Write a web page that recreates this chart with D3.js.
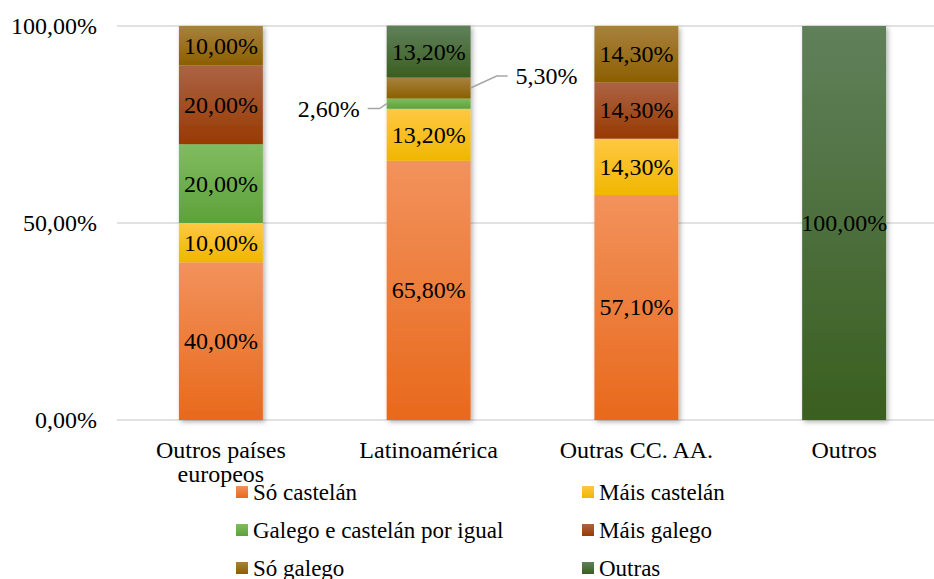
<!DOCTYPE html>
<html>
<head>
<meta charset="utf-8">
<script src="https://cdn.jsdelivr.net/npm/d3@7"></script>
<style>
html,body{margin:0;padding:0;background:#fff;}
svg{display:block;font-family:"Liberation Serif","Times New Roman",serif;}
</style>
</head>
<body>
<svg id="chart" width="934" height="579"></svg>
<script>
const categories = ["Outros países europeos", "Latinoamérica", "Outras CC. AA.", "Outros"];
const seriesNames = ["Só castelán", "Máis castelán", "Galego e castelán por igual", "Máis galego", "Só galego", "Outras"];
const soCastelan      = [40.0, 65.8, 57.1, 0];
const maisCastelan    = [10.0, 13.2, 14.3, 0];
const galegoCastelan  = [20.0, 2.6, 0, 0];
const maisGalego      = [20.0, 0, 14.3, 0];
const soGalego        = [10.0, 5.3, 14.3, 0];
const outras          = [0, 13.2, 0, 100.0];
const yTicks = [0, 50, 100];

const seriesValues = [soCastelan, maisCastelan, galegoCastelan, maisGalego, soGalego, outras];
const colorsTop = ["#F2925C", "#FFC843", "#80BC60", "#AC6344", "#A8813E", "#60805A"];
const colorsBot = ["#E8691C", "#F0B700", "#5EA13A", "#983A02", "#8C5F00", "#3A5F20"];

const rows = categories.map((c, i) => {
  const r = {cat: c};
  seriesNames.forEach((s, j) => r[s] = seriesValues[j][i]);
  return r;
});

const svg = d3.select("#chart");
const fmt = v => d3.format(".2f")(v).replace(".", ",") + "%";

const defs = svg.append("defs");
seriesNames.forEach((s, j) => {
  const g = defs.append("linearGradient").attr("id", "g" + j)
    .attr("x1", 0).attr("y1", 0).attr("x2", 0).attr("y2", 1);
  g.append("stop").attr("offset", "0%").attr("stop-color", colorsTop[j]);
  g.append("stop").attr("offset", "100%").attr("stop-color", colorsBot[j]);
});
const f = defs.append("filter").attr("id", "shadow").attr("x", "-20%").attr("y", "-5%").attr("width", "140%").attr("height", "110%");
f.append("feDropShadow").attr("dx", 2).attr("dy", 2).attr("stdDeviation", 2.5).attr("flood-color", "#000").attr("flood-opacity", 0.3);

const x = d3.scaleBand().domain(categories).range([117, 948]).paddingInner(0.596).paddingOuter(0.298);
const y = d3.scaleLinear().domain([0, 100]).range([420, 26]);

// gridlines
svg.append("g").selectAll("line").data(yTicks).join("line")
  .attr("x1", 117).attr("x2", 934)
  .attr("y1", d => y(d)).attr("y2", d => y(d))
  .attr("stroke", "#D9D9D9").attr("stroke-width", 1.5);

// y axis labels
const yAxis = d3.axisLeft(y).tickValues(yTicks).tickFormat(fmt).tickSize(0).tickPadding(0);
const ya = svg.append("g").attr("transform", "translate(97,0)").call(yAxis);
ya.select(".domain").remove();
ya.attr("font-family", null);
ya.selectAll("text").attr("font-family", "Liberation Serif, Times New Roman, serif")
  .attr("font-size", 24).attr("fill", "#000").attr("dy", "0.33em");

const stack = d3.stack().keys(seriesNames);
const stacked = stack(rows);

// bars with shadow
const barG = svg.append("g");
categories.forEach((c, i) => {
  const bg = barG.append("g").attr("filter", "url(#shadow)");
  stacked.forEach((layer, j) => {
    const d = layer[i];
    if (d[1] - d[0] <= 0) return;
    bg.append("rect")
      .attr("x", x(c)).attr("width", x.bandwidth())
      .attr("y", y(d[1])).attr("height", y(d[0]) - y(d[1]))
      .attr("fill", `url(#g${j})`);
  });
});

// data labels
const lblG = svg.append("g").attr("font-size", 24).attr("fill", "#000");
stacked.forEach((layer, j) => {
  layer.forEach((d, i) => {
    const v = d[1] - d[0];
    if (v <= 0) return;
    const cx = x(categories[i]) + x.bandwidth() / 2;
    const cy = y((d[0] + d[1]) / 2);
    if (v >= 8) {
      lblG.append("text").attr("x", cx).attr("y", cy).attr("dy", "0.33em")
        .attr("text-anchor", "middle").text(fmt(v));
    } else {
      const right = (j === 4);
      const edge = right ? x(categories[i]) + x.bandwidth() : x(categories[i]);
      let pts, tx, ty, anchor;
      if (right) {
        pts = [[edge, cy], [edge + 26, cy - 12], [edge + 37, cy - 12]];
        tx = edge + 45; ty = cy - 12; anchor = "start";
      } else {
        pts = [[edge, cy], [edge - 7, cy + 5], [edge - 19, cy + 5]];
        tx = edge - 27; ty = cy + 5; anchor = "end";
      }
      svg.append("path").attr("d", d3.line()(pts)).attr("fill", "none")
        .attr("stroke", "#A6A6A6").attr("stroke-width", 1.5);
      lblG.append("text").attr("x", tx).attr("y", ty).attr("dy", "0.33em")
        .attr("text-anchor", anchor).text(fmt(v));
    }
  });
});

// x axis labels with wrapping
const xa = svg.append("g").attr("font-size", 24).attr("fill", "#000");
categories.forEach(c => {
  const t = xa.append("text").attr("x", x(c) + x.bandwidth() / 2).attr("y", 458).attr("text-anchor", "middle");
  const words = c.split(" ");
  let line = [];
  let lines = [];
  const tmp = t.append("tspan");
  words.forEach(w => {
    line.push(w);
    tmp.text(line.join(" "));
    if (tmp.node().getComputedTextLength() > 175 && line.length > 1) {
      line.pop();
      lines.push(line.join(" "));
      line = [w];
    }
  });
  lines.push(line.join(" "));
  tmp.remove();
  lines.forEach((l, k) => {
    t.append("tspan").attr("x", x(c) + x.bandwidth() / 2).attr("dy", k === 0 ? 0 : 24).text(l);
  });
});

// legend
const legCols = [236, 582];
const legRows = [492, 530, 568];
const lg = svg.append("g").attr("font-size", 23).attr("fill", "#000");
seriesNames.forEach((s, j) => {
  const lx = legCols[j % 2], ly = legRows[Math.floor(j / 2)];
  lg.append("rect").attr("x", lx).attr("y", ly - 6).attr("width", 12).attr("height", 12).attr("fill", `url(#g${j})`);
  lg.append("text").attr("x", lx + 17).attr("y", ly).attr("dy", "0.33em").text(s);
});
</script>
</body>
</html>
